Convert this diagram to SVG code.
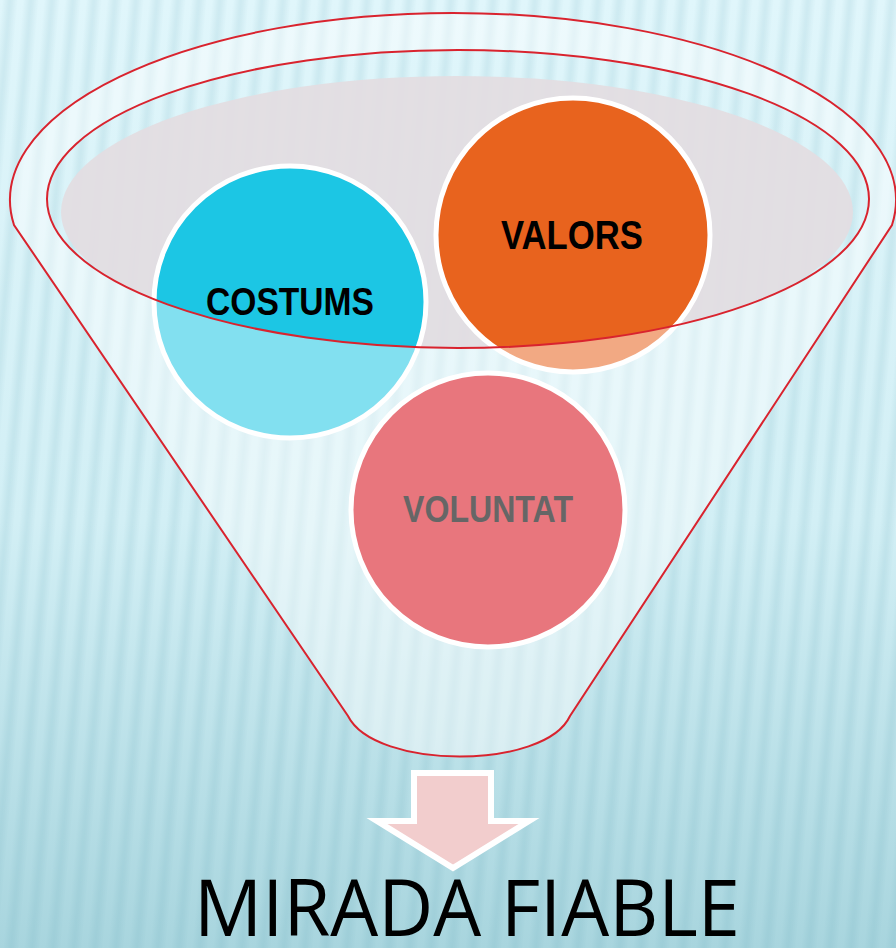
<svg xmlns="http://www.w3.org/2000/svg" width="896" height="948" viewBox="0 0 896 948">
<style>
.outline{fill:none;stroke:#d9232e;stroke-width:2}
.disc{stroke:#ffffff;stroke-width:5}
.lbl{font-family:"Liberation Sans",Arial,sans-serif;text-anchor:middle;font-weight:700}
</style>
<defs>
<linearGradient id="bg" x1="0" y1="0" x2="0" y2="1">
<stop offset="0" stop-color="#e0f6fb"/>
<stop offset="0.55" stop-color="#d2eff5"/>
<stop offset="1" stop-color="#a8d5de"/>
</linearGradient>
<linearGradient id="sg" x1="0" y1="0" x2="1" y2="0">
<stop offset="0" stop-color="#5a9fb0" stop-opacity="0"/>
<stop offset="0.5" stop-color="#5a9fb0" stop-opacity="0.14"/>
<stop offset="1" stop-color="#5a9fb0" stop-opacity="0"/>
</linearGradient>
<pattern id="stripes" width="21" height="40" patternUnits="userSpaceOnUse" patternTransform="skewX(-5)">
<rect x="2" y="0" width="16" height="40" fill="url(#sg)"/>
</pattern>
</defs>
<rect width="896" height="948" fill="url(#bg)"/>
<rect x="-100" width="1100" height="948" fill="url(#stripes)"/>

<g id="funnel-back">
<ellipse cx="457" cy="212" rx="396" ry="136" fill="#e3dde1" fill-opacity="0.95"/>
</g>

<g id="costums">
<circle class="disc" cx="290" cy="302" r="136" fill="#1cc6e4"/>
<text class="lbl" x="290" y="315" font-size="38" textLength="168" lengthAdjust="spacingAndGlyphs" fill="#000">COSTUMS</text>
</g>
<g id="valors">
<circle class="disc" cx="573" cy="235" r="137" fill="#e8631e"/>
<text class="lbl" x="572" y="249" font-size="41" textLength="142" lengthAdjust="spacingAndGlyphs" fill="#000">VALORS</text>
</g>

<g id="funnel-front">
<path d="M14 225 A443 187 0 1 1 892 225 L570 716 C545 770 375 770 348 716 Z M47 199 A411 149 0 1 0 869 199 A411 149 0 1 0 47 199 Z" fill="#ffffff" fill-opacity="0.45" fill-rule="evenodd"/>
</g>

<g id="connectors">
<path class="outline" d="M14 225 A443 187 0 1 1 892 225 L570 716 C545 770 375 770 348 716 Z"/>
<ellipse class="outline" cx="458" cy="199" rx="411" ry="149"/>
</g>

<g id="voluntat">
<circle class="disc" cx="488" cy="510" r="137" fill="#e8767d"/>
<text class="lbl" x="488" y="522" font-size="37" textLength="170" lengthAdjust="spacingAndGlyphs" fill="#666666">VOLUNTAT</text>
</g>

<g id="arrow">
<polygon points="414,773 491,773 491,821 529,821 453,868 377,821 414,821" fill="#f2cdcd" stroke="#ffffff" stroke-width="6"/>
</g>

<g id="result">
<text x="467" y="936" font-family="'Open Sans','Liberation Sans',sans-serif" font-size="78" text-anchor="middle" textLength="546" lengthAdjust="spacingAndGlyphs" fill="#000">MIRADA FIABLE</text>
</g>
</svg>
